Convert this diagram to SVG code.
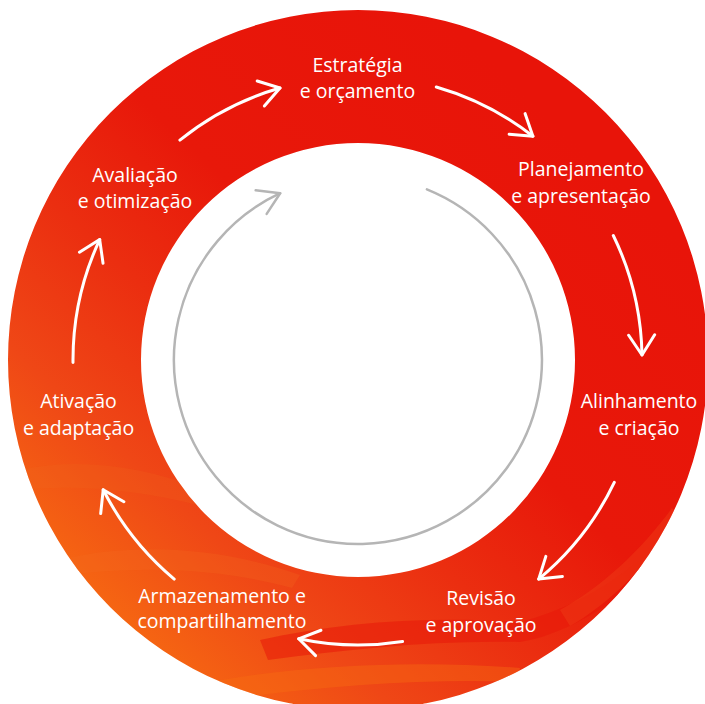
<svg xmlns="http://www.w3.org/2000/svg" width="705" height="704" viewBox="0 0 705 704">
  <style>
    .lbl { font-family: "Open Sans", "Noto Sans", "Liberation Sans", sans-serif; font-size: 19.5px; fill: #ffffff; text-anchor: middle; }
    .arr { fill: none; stroke: #ffffff; stroke-width: 3; stroke-linecap: round; marker-end: url(#headW); }
    .garr { fill: none; stroke: #b5b5b5; stroke-width: 2.5; stroke-linecap: round; marker-end: url(#headG); }
  </style>
  <defs>
    <linearGradient id="ringGrad" gradientUnits="userSpaceOnUse" x1="640" y1="200" x2="180" y2="690">
      <stop offset="0" stop-color="#e81409"/>
      <stop offset="0.4" stop-color="#e8180a"/>
      <stop offset="0.6" stop-color="#eb2e10"/>
      <stop offset="0.8" stop-color="#ef4716"/>
      <stop offset="1" stop-color="#f66812"/>
    </linearGradient>
    <clipPath id="ringClip">
      <path clip-rule="evenodd" d="M8,360 A350,350 0 1 0 708,360 A350,350 0 1 0 8,360 Z M141,360 A217,217 0 1 1 575,360 A217,217 0 1 1 141,360 Z"/>
    </clipPath>
    <marker id="headW" markerUnits="userSpaceOnUse" markerWidth="30" markerHeight="30" viewBox="-24 -15 28 30" refX="0" refY="0" orient="auto">
      <path d="M-20,-13 L0,0 L-20,13" fill="none" stroke="#ffffff" stroke-width="3" stroke-linecap="round" stroke-linejoin="round"/>
    </marker>
    <marker id="headG" markerUnits="userSpaceOnUse" markerWidth="30" markerHeight="30" viewBox="-24 -15 28 30" refX="0" refY="0" orient="auto">
      <path d="M-21,-13 L0,0 L-21,13" fill="none" stroke="#b5b5b5" stroke-width="2.5" stroke-linecap="round" stroke-linejoin="round"/>
    </marker>
  </defs>

  <rect width="705" height="704" fill="#ffffff"/>

  <g id="ring" clip-path="url(#ringClip)">
    <rect x="0" y="0" width="710" height="710" fill="url(#ringGrad)"/>
    <path d="M20,470 C90,455 160,470 230,500 L222,512 C150,490 80,484 20,490 Z" fill="#f26a20" opacity="0.2"/>
    <path d="M60,560 C140,540 230,550 300,575 L292,588 C220,568 140,565 60,576 Z" fill="#f46a1e" opacity="0.25"/>
    <path d="M260,640 C340,622 430,616 520,622 C560,612 600,592 640,560 L648,572 C610,608 560,636 520,642 C430,640 345,650 268,660 Z" fill="#e8170a" opacity="0.55"/>
    <path d="M200,684 C300,664 420,660 520,668 L516,682 C420,678 300,688 210,702 Z" fill="#f86d12" opacity="0.4"/>
    <path d="M560,610 C600,588 640,552 672,508 L680,518 C650,562 612,602 570,626 Z" fill="#f0481a" opacity="0.35"/>
  </g>

  <g id="connectors">
    <path class="arr" d="M436.3,87 A284,284 0 0 1 532.9,136.2"/>
    <path class="arr" d="M613.3,235.5 A284,284 0 0 1 642,355"/>
    <path class="arr" d="M614.3,482.3 A284,284 0 0 1 538.7,579.1"/>
    <path class="arr" d="M402.6,641.5 A285,285 0 0 1 298.7,638.8"/>
    <path class="arr" d="M174.2,579.1 A286,286 0 0 1 103.2,489.8"/>
    <path class="arr" d="M73,362.5 A285,285 0 0 1 99.7,239.6"/>
    <path class="arr" d="M179.9,140.1 A283,283 0 0 1 280,88"/>
    <path class="garr" d="M426.9,189.4 A184,184 0 1 1 280.2,193.2"/>
  </g>

  <g id="node-estrategia">
    <text class="lbl" x="357.5" y="72">Estratégia</text>
    <text class="lbl" x="357.5" y="98">e orçamento</text>
  </g>
  <g id="node-planejamento">
    <text class="lbl" x="581" y="176">Planejamento</text>
    <text class="lbl" x="581" y="202.5">e apresentação</text>
  </g>
  <g id="node-alinhamento">
    <text class="lbl" x="639" y="408">Alinhamento</text>
    <text class="lbl" x="639" y="435">e criação</text>
  </g>
  <g id="node-revisao">
    <text class="lbl" x="481" y="605">Revisão</text>
    <text class="lbl" x="481" y="631.5">e aprovação</text>
  </g>
  <g id="node-armazenamento">
    <text class="lbl" x="222" y="603">Armazenamento e</text>
    <text class="lbl" x="222" y="628">compartilhamento</text>
  </g>
  <g id="node-ativacao">
    <text class="lbl" x="78.5" y="408">Ativação</text>
    <text class="lbl" x="78.5" y="435">e adaptação</text>
  </g>
  <g id="node-avaliacao">
    <text class="lbl" x="135" y="182">Avaliação</text>
    <text class="lbl" x="135" y="208">e otimização</text>
  </g>
</svg>
